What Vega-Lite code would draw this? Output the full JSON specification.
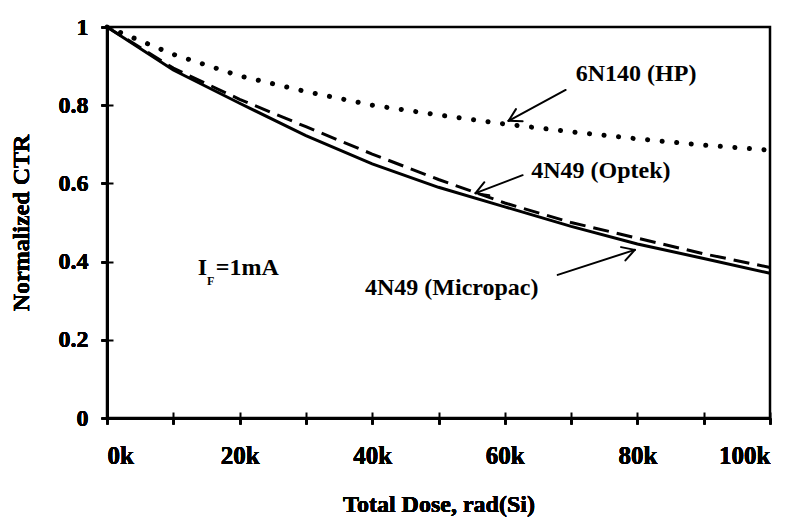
{
  "$schema": "https://vega.github.io/schema/vega-lite/v6.json",
  "width": 663,
  "height": 391,
  "autosize": {"type": "none"},
  "padding": {"left": 107, "top": 27, "right": 30, "bottom": 100},
  "background": "white",
  "config": {
    "view": {"stroke": "black", "strokeWidth": 2.5},
    "font": "Liberation Serif",
    "axis": {
      "grid": false,
      "domainColor": "black",
      "domainWidth": 2.5,
      "tickColor": "black",
      "tickWidth": 2,
      "tickSize": 6,
      "labelFont": "Liberation Serif",
      "labelFontWeight": "bold",
      "labelColor": "black",
      "titleFont": "Liberation Serif",
      "titleFontWeight": "bold",
      "titleFontSize": 24,
      "titleColor": "black"
    }
  },
  "resolve": {"axis": {"x": "independent", "y": "independent"}},
  "datasets": {
    "curves": [
      {"series": "4N49 (Micropac)", "dose": 0, "ctr": 1.0},
      {"series": "4N49 (Micropac)", "dose": 10000, "ctr": 0.89},
      {"series": "4N49 (Micropac)", "dose": 20000, "ctr": 0.805},
      {"series": "4N49 (Micropac)", "dose": 30000, "ctr": 0.722},
      {"series": "4N49 (Micropac)", "dose": 40000, "ctr": 0.65},
      {"series": "4N49 (Micropac)", "dose": 50000, "ctr": 0.59},
      {"series": "4N49 (Micropac)", "dose": 60000, "ctr": 0.54},
      {"series": "4N49 (Micropac)", "dose": 70000, "ctr": 0.49},
      {"series": "4N49 (Micropac)", "dose": 80000, "ctr": 0.445},
      {"series": "4N49 (Micropac)", "dose": 90000, "ctr": 0.408},
      {"series": "4N49 (Micropac)", "dose": 100000, "ctr": 0.37},
      {"series": "4N49 (Optek)", "dose": 0, "ctr": 1.0},
      {"series": "4N49 (Optek)", "dose": 10000, "ctr": 0.895},
      {"series": "4N49 (Optek)", "dose": 20000, "ctr": 0.815},
      {"series": "4N49 (Optek)", "dose": 30000, "ctr": 0.745},
      {"series": "4N49 (Optek)", "dose": 40000, "ctr": 0.675},
      {"series": "4N49 (Optek)", "dose": 50000, "ctr": 0.61},
      {"series": "4N49 (Optek)", "dose": 60000, "ctr": 0.55},
      {"series": "4N49 (Optek)", "dose": 70000, "ctr": 0.50},
      {"series": "4N49 (Optek)", "dose": 80000, "ctr": 0.46},
      {"series": "4N49 (Optek)", "dose": 90000, "ctr": 0.42},
      {"series": "4N49 (Optek)", "dose": 100000, "ctr": 0.385},
      {"series": "6N140 (HP)", "dose": 0, "ctr": 1.0},
      {"series": "6N140 (HP)", "dose": 10000, "ctr": 0.93},
      {"series": "6N140 (HP)", "dose": 20000, "ctr": 0.875},
      {"series": "6N140 (HP)", "dose": 30000, "ctr": 0.835},
      {"series": "6N140 (HP)", "dose": 40000, "ctr": 0.80},
      {"series": "6N140 (HP)", "dose": 50000, "ctr": 0.775},
      {"series": "6N140 (HP)", "dose": 60000, "ctr": 0.752},
      {"series": "6N140 (HP)", "dose": 70000, "ctr": 0.732},
      {"series": "6N140 (HP)", "dose": 80000, "ctr": 0.714},
      {"series": "6N140 (HP)", "dose": 90000, "ctr": 0.698},
      {"series": "6N140 (HP)", "dose": 100000, "ctr": 0.685}
    ],
    "labels": [
      {"label": "6N140 (HP)", "dose": 79800, "ctr": 0.880},
      {"label": "4N49 (Optek)", "dose": 74500, "ctr": 0.632},
      {"label": "4N49 (Micropac)", "dose": 52000, "ctr": 0.332}
    ],
    "arrows": [
      {"dose": 69180, "ctr": 0.839, "dose2": 60570, "ctr2": 0.760},
      {"dose": 62690, "ctr": 0.759, "dose2": 60570, "ctr2": 0.760},
      {"dose": 61680, "ctr": 0.790, "dose2": 60570, "ctr2": 0.760},
      {"dose": 62690, "ctr": 0.621, "dose2": 55590, "ctr2": 0.575},
      {"dose": 57670, "ctr": 0.570, "dose2": 55590, "ctr2": 0.575},
      {"dose": 56920, "ctr": 0.603, "dose2": 55590, "ctr2": 0.575},
      {"dose": 67980, "ctr": 0.366, "dose2": 79610, "ctr2": 0.430},
      {"dose": 77540, "ctr": 0.437, "dose2": 79610, "ctr2": 0.430},
      {"dose": 78190, "ctr": 0.403, "dose2": 79610, "ctr2": 0.430}
    ],
    "ifMain": [
      {"t": "I", "dose": 13700, "ctr": 0.384},
      {"t": "=1mA", "dose": 16400, "ctr": 0.384}
    ],
    "ifSub": [
      {"t": "F", "dose": 15100, "ctr": 0.350}
    ]
  },
  "encoding": {
    "x": {
      "field": "dose",
      "type": "quantitative",
      "scale": {"domain": [0, 100000], "nice": false},
      "axis": {
        "orient": "bottom",
        "title": "Total Dose, rad(Si)",
        "values": [0, 10000, 20000, 30000, 40000, 50000, 60000, 70000, 80000, 90000, 100000],
        "labelExpr": "datum.value % 20000 == 0 ? (datum.value / 1000) + 'k' : ''",
        "labelFontSize": 25,
        "labelPadding": 19,
        "titlePadding": 24
      }
    },
    "y": {
      "field": "ctr",
      "type": "quantitative",
      "scale": {"domain": [0, 1], "nice": false},
      "axis": {
        "orient": "left",
        "title": "Normalized CTR",
        "values": [0, 0.2, 0.4, 0.6, 0.8, 1],
        "format": "~g",
        "labelFontSize": 24,
        "labelPadding": 13,
        "titlePadding": 25
      }
    }
  },
  "layer": [
    {
      "data": {"name": "curves"},
      "transform": [{"filter": "datum.series == '4N49 (Micropac)'"}],
      "mark": {"type": "line", "color": "black", "strokeWidth": 3}
    },
    {
      "data": {"name": "curves"},
      "transform": [{"filter": "datum.series == '4N49 (Optek)'"}],
      "mark": {"type": "line", "color": "black", "strokeWidth": 3, "strokeDash": [16, 8]}
    },
    {
      "data": {"name": "curves"},
      "transform": [{"filter": "datum.series == '6N140 (HP)'"}],
      "mark": {"type": "line", "color": "black", "strokeWidth": 5, "strokeDash": [0.1, 14.5], "strokeCap": "round"},
      "encoding": {
        "x": {
          "field": "dose",
          "type": "quantitative",
          "axis": {
            "orient": "bottom",
            "title": null,
            "labels": false,
            "domain": false,
            "tickSize": -6,
            "values": [0, 10000, 20000, 30000, 40000, 50000, 60000, 70000, 80000, 90000, 100000]
          }
        },
        "y": {
          "field": "ctr",
          "type": "quantitative",
          "axis": {
            "orient": "left",
            "title": null,
            "labels": false,
            "domain": false,
            "tickSize": -6,
            "values": [0, 0.2, 0.4, 0.6, 0.8, 1]
          }
        }
      }
    },
    {
      "data": {"name": "arrows"},
      "mark": {"type": "rule", "color": "black", "strokeWidth": 2, "strokeCap": "round"},
      "encoding": {
        "x2": {"field": "dose2"},
        "y2": {"field": "ctr2"}
      }
    },
    {
      "data": {"name": "labels"},
      "mark": {"type": "text", "color": "black", "font": "Liberation Serif", "fontWeight": "bold", "fontSize": 24, "align": "center", "baseline": "middle"},
      "encoding": {"text": {"field": "label"}}
    },
    {
      "data": {"name": "ifMain"},
      "mark": {"type": "text", "color": "black", "font": "Liberation Serif", "fontWeight": "bold", "fontSize": 24, "align": "left", "baseline": "middle"},
      "encoding": {"text": {"field": "t"}}
    },
    {
      "data": {"name": "ifSub"},
      "mark": {"type": "text", "color": "black", "font": "Liberation Serif", "fontWeight": "bold", "fontSize": 12, "align": "left", "baseline": "middle"},
      "encoding": {"text": {"field": "t"}}
    }
  ]
}
